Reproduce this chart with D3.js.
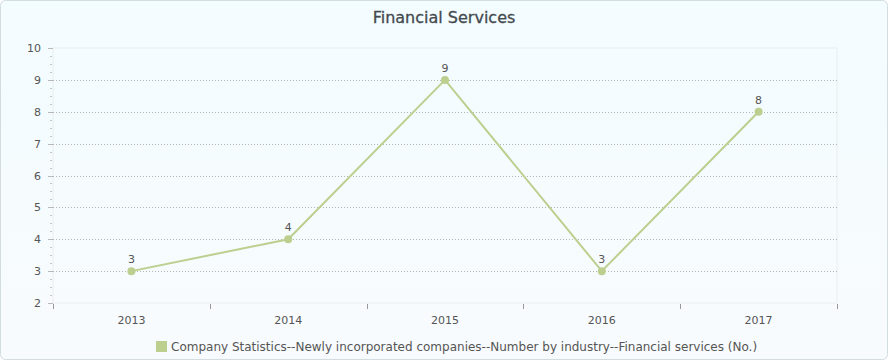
<!DOCTYPE html>
<html>
<head>
<meta charset="utf-8">
<script src="https://cdn.jsdelivr.net/npm/d3@7"></script>
<style>
  body { margin: 0; background: #fff; }
  text { font-family: "DejaVu Sans", Verdana, sans-serif; }
</style>
</head>
<body>
<svg id="chart"></svg>
<script>
const years = ["2013", "2014", "2015", "2016", "2017"];
const values = [3, 4, 9, 3, 8];
const yTicks = [2, 3, 4, 5, 6, 7, 8, 9, 10];
const seriesName = "Company Statistics--Newly incorporated companies--Number by industry--Financial services (No.)";
const title = "Financial Services";

const W = 890, H = 362;
const margin = {top: 48, bottom: 59, left: 53, right: 53};
const width = W - margin.left - margin.right;
const height = H - margin.top - margin.bottom;

const svg = d3.select('#chart').attr('width', W).attr('height', H);

// background panel
const defs = svg.append('defs');
const grad = defs.append('linearGradient').attr('id', 'bg')
  .attr('x1', 0).attr('y1', 0).attr('x2', 0).attr('y2', 1);
grad.append('stop').attr('offset', '0%').attr('stop-color', '#f3fcff');
grad.append('stop').attr('offset', '100%').attr('stop-color', '#f8fbfd');

svg.append('rect')
  .attr('x', 0.5).attr('y', 0.5)
  .attr('width', W - 3).attr('height', H - 3)
  .attr('rx', 5)
  .attr('fill', 'url(#bg)')
  .attr('stroke', '#d3dcdf');

svg.append('text')
  .attr('x', W / 2 - 1).attr('y', 23)
  .attr('text-anchor', 'middle')
  .attr('font-size', 16)
  .attr('fill', '#44494e')
  .attr('stroke', '#44494e')
  .attr('stroke-width', 0.3)
  .text(title);

const g = svg.append('g')
  .attr('transform', `translate(${margin.left},${margin.top})`);

const xscale = d3.scaleBand().domain(years).range([0, width]);
const yscale = d3.scaleLinear().domain([2, 10]).range([height, 0]);

// plot frame
g.append('rect')
  .attr('x', 0).attr('y', 0).attr('width', width).attr('height', height)
  .attr('fill', 'none').attr('stroke', '#eaeef0');

// grid lines
g.append('g').selectAll('line')
  .data(yTicks.filter((d) => d > 2 && d < 10))
  .join('line')
  .attr('x1', 0).attr('x2', width)
  .attr('y1', (d) => Math.round(yscale(d)) + 0.5)
  .attr('y2', (d) => Math.round(yscale(d)) + 0.5)
  .attr('stroke', '#b4b4b4')
  .attr('stroke-dasharray', '1,2');

// y axis: minor ticks
const minor = d3.range(2, 10.001, 0.25).filter((d) => Math.abs(d - Math.round(d)) > 0.01);
g.append('g').selectAll('line')
  .data(minor)
  .join('line')
  .attr('x1', -3).attr('x2', -1)
  .attr('y1', (d) => Math.round(yscale(d)) + 0.5)
  .attr('y2', (d) => Math.round(yscale(d)) + 0.5)
  .attr('stroke', '#c4c4c4');

g.append('g').selectAll('line')
  .data(yTicks)
  .join('line')
  .attr('x1', -5).attr('x2', 0)
  .attr('y1', (d) => Math.round(yscale(d)) + 0.5)
  .attr('y2', (d) => Math.round(yscale(d)) + 0.5)
  .attr('stroke', '#b8b8b8');

g.append('g').selectAll('text')
  .data(yTicks)
  .join('text')
  .attr('x', -12)
  .attr('y', (d) => yscale(d) + 4)
  .attr('text-anchor', 'end')
  .attr('font-size', 11)
  .attr('fill', '#555')
  .text((d) => d);

// x axis
const xaxis = d3.axisBottom(xscale).tickSize(0).tickPadding(13);
const g_xaxis = g.append('g')
  .attr('transform', `translate(0,${height})`)
  .call(xaxis);
g_xaxis.select('.domain').remove();
g_xaxis.selectAll('text')
  .attr('font-family', '"DejaVu Sans", Verdana, sans-serif')
  .attr('font-size', 11)
  .attr('fill', '#555');

const bounds = years.map((d) => xscale(d)).concat([width]);
g.append('g').selectAll('line')
  .data(bounds)
  .join('line')
  .attr('x1', (d) => Math.round(d) + 0.5)
  .attr('x2', (d) => Math.round(d) + 0.5)
  .attr('y1', height + 1).attr('y2', height + 6)
  .attr('stroke', '#999');

// series
const color = '#bccf8e';
const cx = (i) => xscale(years[i]) + xscale.bandwidth() / 2;
const line = d3.line()
  .x((d, i) => cx(i))
  .y((d) => yscale(d));

g.append('path')
  .datum(values)
  .attr('d', line)
  .attr('fill', 'none')
  .attr('stroke', color)
  .attr('stroke-width', 2);

g.append('g').selectAll('circle')
  .data(values)
  .join('circle')
  .attr('cx', (d, i) => cx(i))
  .attr('cy', (d) => yscale(d))
  .attr('r', 4)
  .attr('fill', color);

g.append('g').selectAll('text')
  .data(values)
  .join('text')
  .attr('x', (d, i) => cx(i))
  .attr('y', (d) => yscale(d) - 8)
  .attr('text-anchor', 'middle')
  .attr('font-size', 11)
  .attr('fill', '#555')
  .text((d) => d);

// legend
const legend = svg.append('g').attr('transform', 'translate(156,341)');
legend.append('rect')
  .attr('width', 11).attr('height', 11)
  .attr('fill', color);
legend.append('text')
  .attr('x', 15).attr('y', 10)
  .attr('font-size', 12)
  .attr('fill', '#555')
  .text(seriesName);
</script>
</body>
</html>
